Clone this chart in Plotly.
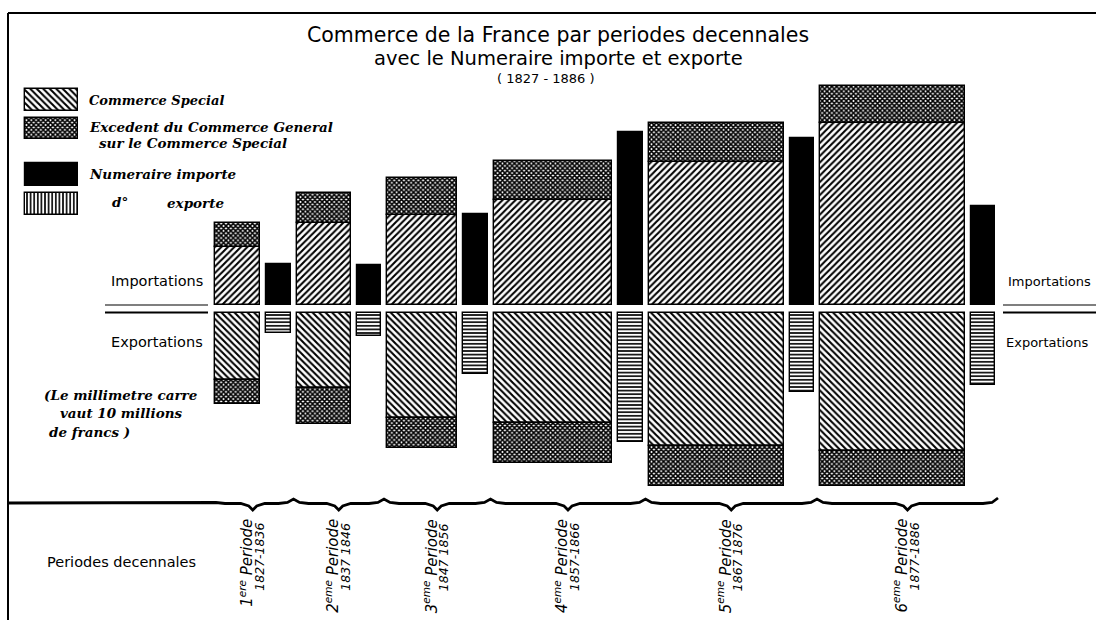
import plotly.graph_objects as go

# ---------------- data (millions of francs, totals per decade) ----------------
period_names = ["1<sup>ere</sup> Periode", "2<sup>eme</sup> Periode", "3<sup>eme</sup> Periode",
                "4<sup>eme</sup> Periode", "5<sup>eme</sup> Periode", "6<sup>eme</sup> Periode"]
period_years = ["1827-1836", "1837 1846", "1847 1856", "1857-1866", "1867 1876", "1877-1886"]
imp_special = [4930, 8370, 11910, 23520, 36410, 49830]   # Commerce special - importations
imp_excess = [2040, 3110, 4940, 8740, 9950, 9900]        # Excedent du commerce general - importations
exp_special = [5780, 7730, 13980, 24790, 34190, 37830]   # Commerce special - exportations
exp_excess = [2040, 3630, 3970, 8960, 10210, 9630]       # Excedent du commerce general - exportations
num_imp = [1900, 1850, 4200, 8030, 7750, 4580]           # Numeraire importe
num_exp = [930, 1070, 2830, 6010, 3660, 3380]            # Numeraire exporte

# ---------------- layout parameters (pixels) ----------------
W, H = 1096, 620
box_width = [45, 54, 70, 118.5, 135, 144.5]
num_width = 24.5
x_start, gap = 215, 6
imp_base, exp_base = 305, 312.5
area_scale = 0.529      # px^2 per million francs (1 mm^2 = 10 millions, 2.3 px per mm)

box_left, num_center = [], []
x = x_start
for w in box_width:
    box_left.append(x)
    x += w + gap
    num_center.append(x + num_width / 2)
    x += num_width + gap
box_center = [l + w / 2 for l, w in zip(box_left, box_width)]
group_left = box_left
group_right = [c + num_width / 2 for c in num_center]
group_center = [(a + b) / 2 for a, b in zip(group_left, group_right)]

h_is = [v * area_scale / w for v, w in zip(imp_special, box_width)]
h_ie = [v * area_scale / w for v, w in zip(imp_excess, box_width)]
h_es = [v * area_scale / w for v, w in zip(exp_special, box_width)]
h_ee = [v * area_scale / w for v, w in zip(exp_excess, box_width)]
h_ni = [v * area_scale / num_width for v in num_imp]
h_ne = [v * area_scale / num_width for v in num_exp]


def hatch(shape, size, solidity):
    if shape is None:
        return dict(color="black", line=dict(color="black", width=1.2))
    return dict(color="white", line=dict(color="black", width=1.4),
                pattern=dict(shape=shape, fgcolor="black", bgcolor="white",
                             size=size, solidity=solidity, fillmode="replace"))


CROSS = ("x", 3.4, 0.72)
IMP = ("/", 4.6, 0.45)
EXP = ("\\", 4.6, 0.45)
NEXP = ("-", 3.6, 0.45)

fig = go.Figure()
n = len(box_width)
# importations
fig.add_bar(x=box_center, y=[-h for h in h_is], base=[imp_base] * n, width=box_width, marker=hatch(*IMP))
fig.add_bar(x=box_center, y=[-h for h in h_ie], base=[imp_base - h for h in h_is], width=box_width,
            marker=hatch(*CROSS))
# exportations
fig.add_bar(x=box_center, y=h_es, base=[exp_base] * n, width=box_width, marker=hatch(*EXP))
fig.add_bar(x=box_center, y=h_ee, base=[exp_base + h for h in h_es], width=box_width, marker=hatch(*CROSS))
# numeraire
fig.add_bar(x=num_center, y=[-h for h in h_ni], base=[imp_base] * n, width=[num_width] * n,
            marker=hatch(None, 0, 0))
fig.add_bar(x=num_center, y=h_ne, base=[exp_base] * n, width=[num_width] * n, marker=hatch(*NEXP))

# legend swatches
legend_rows = [(89, 111, ("\\", 4.6, 0.45)), (118, 139, CROSS), (163, 186, (None, 0, 0)),
               (193, 215, ("|", 3.6, 0.45))]
for top, bot, pat in legend_rows:
    fig.add_bar(x=[51.5], y=[bot - top], base=[top], width=[53], marker=hatch(*pat))

# braces under the periods
bx, by = [8, group_left[0] - 5], [503, 503]
starts = [group_left[0] - 5] + [(group_right[i] + group_left[i + 1]) / 2 for i in range(n - 1)]
ends = starts[1:] + [group_right[-1] + 3]
for i in range(n):
    a, b, c = starts[i], ends[i], group_center[i]
    ya = 503 if i == 0 else 499
    bx += [a, a + 6, a + 15, c - 12, c - 4, c, c + 4, c + 12, b - 15, b - 6, b]
    by += [ya, 502.5, 503.5, 503.5, 506, 510, 506, 503.5, 503.5, 502.5, 498 if i == n - 1 else 499]
fig.add_scatter(x=bx, y=by, mode="lines", line=dict(color="black", width=2.8), hoverinfo="skip")

fig.update_traces(selector=dict(type="bar"), hoverinfo="skip")

shapes = [
    dict(type="line", x0=8, x1=W, y0=13, y1=13, line=dict(color="black", width=2)),
    dict(type="line", x0=8, x1=8, y0=13, y1=H, line=dict(color="black", width=2)),
]
for y0, wd in [(imp_base, 1.2), (exp_base, 1.8)]:
    shapes.append(dict(type="line", x0=105, x1=208, y0=y0, y1=y0, line=dict(color="black", width=wd)))
    shapes.append(dict(type="line", x0=1003, x1=W, y0=y0, y1=y0, line=dict(color="black", width=wd)))

SANS = "DejaVu Sans"
SERIF = "DejaVu Serif"
ann = []


def txt(x, y, text, size, family=SANS, xanchor="left", yanchor="middle", angle=0, style="normal"):
    ann.append(dict(x=x, y=y, xref="x", yref="y", text=text, showarrow=False, xanchor=xanchor,
                    yanchor=yanchor, textangle=angle,
                    font=dict(family=family, size=size, color="black", style=style)))


txt(558, 35, "Commerce de la France par periodes decennales", 20.5, xanchor="center")
txt(558, 58, "avec le Numeraire importe et exporte", 19.5, xanchor="center")
txt(546, 78, "( 1827 - 1886 )", 13, xanchor="center")

txt(87, 100, "<b><i>Commerce Special</i></b>", 13, SERIF)
txt(87, 127, "<b><i>Excedent du Commerce General</i></b>", 13.5, SERIF)
txt(97, 143, "<b><i>sur le Commerce Special</i></b>", 13.5, SERIF)
txt(87, 174, "<b><i>Numeraire importe</i></b>", 13.5, SERIF)
txt(110, 202, "<b><i>d°</i></b>", 13.5, SERIF)
txt(165, 203, "<b><i>exporte</i></b>", 13.5, SERIF)

txt(42, 395, "<b><i>(Le millimetre carre</i></b>", 13.5, SERIF)
txt(58, 413, "<b><i>vaut 10 millions</i></b>", 13.5, SERIF)
txt(47, 432, "<b><i>de francs )</i></b>", 13.5, SERIF)

txt(205, 281, "Importations", 14.5, xanchor="right")
txt(205, 342, "Exportations", 14.5, xanchor="right")
txt(1006, 281, "Importations", 13)
txt(1004, 342, "Exportations", 13)
txt(45, 562, "Periodes decennales", 14.5)

for i in range(n):
    c = group_center[i]
    txt(c - 7, 517, period_names[i], 15, yanchor="top", xanchor="center", angle=-90, style="italic")
    txt(c + 6, 521, period_years[i], 12.5, yanchor="top", xanchor="center", angle=-90, style="italic")

fig.update_layout(
    width=W, height=H, autosize=False,
    margin=dict(l=0, r=0, t=0, b=0, pad=0),
    paper_bgcolor="white", plot_bgcolor="white",
    barmode="overlay", bargap=0, showlegend=False,
    xaxis=dict(range=[0, W], visible=False, fixedrange=True),
    yaxis=dict(range=[H, 0], visible=False, fixedrange=True),
    shapes=shapes, annotations=ann,
)
fig.write_html("out.html", config={"displayModeBar": False},
               post_script="document.body.style.margin='0';document.body.style.overflow='hidden';")
